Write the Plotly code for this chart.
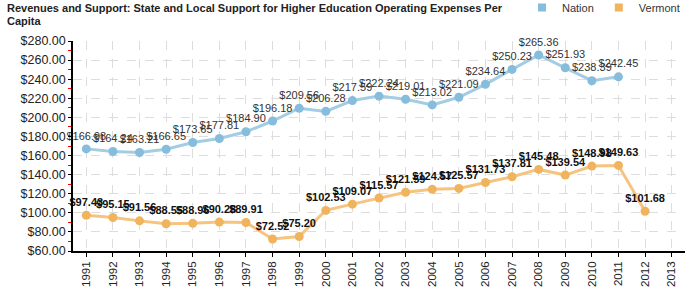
import plotly.graph_objects as go

years = [str(y) for y in range(1991, 2014)]
nation = [166.98, 164.24, 163.21, 166.65, 173.65, 177.81, 184.90, 196.18, 209.56, 206.28,
          217.59, 222.24, 219.01, 213.02, 221.09, 234.64, 250.23, 265.36, 251.93, 238.39, 242.45]
vermont = [97.43, 95.15, 91.56, 88.55, 88.96, 90.28, 89.91, 72.52, 75.20, 102.53, 109.07,
           115.57, 121.59, 124.57, 125.57, 131.73, 137.81, 145.48, 139.54, 148.98, 149.63, 101.68]
title_lines = ["Revenues and Support: State and Local Support for Higher Education Operating Expenses Per",
               "Capita"]

nation_line, nation_mark = "#a3cde4", "#86bcdc"
vt_line, vt_mark = "#f6c47e", "#f0b35e"

fig = go.Figure()
fig.add_trace(go.Scatter(
    x=years[:len(nation)], y=nation, name="Nation", mode="lines+markers+text",
    line=dict(color=nation_line, width=3),
    marker=dict(color=nation_mark, size=9, symbol="circle"),
    text=["$%.2f" % v for v in nation], textposition="top center",
    textfont=dict(family="Arial", size=11, color="#333333"),
    cliponaxis=False, showlegend=False,
))
fig.add_trace(go.Scatter(
    x=years[:len(vermont)], y=vermont, name="Vermont", mode="lines+markers+text",
    line=dict(color=vt_line, width=3),
    marker=dict(color=vt_mark, size=9, symbol="circle"),
    text=["<b>$%.2f</b>" % v for v in vermont], textposition="top center",
    textfont=dict(family="Arial", size=11, color="#111111"),
    cliponaxis=False, showlegend=False,
))
# legend entries (square swatches)
for name, col in [("Nation", nation_mark), ("Vermont", vt_mark)]:
    fig.add_trace(go.Scatter(x=[None], y=[None], mode="markers", name=name,
                             marker=dict(color=col, size=8, symbol="square")))

fig.update_layout(
    width=700, height=300,
    margin=dict(l=73, r=15, t=41, b=49, autoexpand=False),
    paper_bgcolor="white", plot_bgcolor="white",
    font=dict(family="Arial", color="#222222"),
    legend=dict(
        orientation="h", x=1.0, xanchor="right", yref="container", y=0.975, yanchor="middle",
        font=dict(family="Arial", size=11, color="#333333"),
        itemwidth=30, bgcolor="rgba(0,0,0,0)", tracegroupgap=0,
    ),
    showlegend=True,
)
for i, (line, ypx) in enumerate(zip(title_lines, [8, 21])):
    fig.add_annotation(
        text="<b>%s</b>" % line, xref="paper", yref="paper",
        x=(5 - 73) / 612, xanchor="left", y=(251 - ypx) / 210, yanchor="middle",
        showarrow=False, font=dict(family="Arial", size=11, color="#222222"),
    )
fig.update_xaxes(
    type="category", categoryorder="array", categoryarray=years,
    range=[-0.5, len(years) - 0.5],
    tickangle=-90, tickfont=dict(family="Arial", size=11.5, color="#222222"),
    showline=True, linecolor="black", linewidth=1.5,
    ticks="outside", ticklen=4, tickcolor="black",
    showgrid=True, gridcolor="#dddddd", griddash="dash", gridwidth=1,
    zeroline=False, automargin=False,
)
fig.update_yaxes(
    range=[60, 280], dtick=20, tick0=60,
    tickformat="$.2f", tickfont=dict(family="Arial", size=12.5, color="#222222"),
    showline=True, linecolor="black", linewidth=1.5,
    ticks="outside", ticklen=3, tickcolor="black",
    showgrid=True, gridcolor="#dddddd", griddash="dash", gridwidth=1,
    zeroline=False, automargin=False,
    minor=dict(ticks="outside", ticklen=3, tickcolor="red", dtick=10, tick0=70, showgrid=False),
)

fig.write_html("out.html")
